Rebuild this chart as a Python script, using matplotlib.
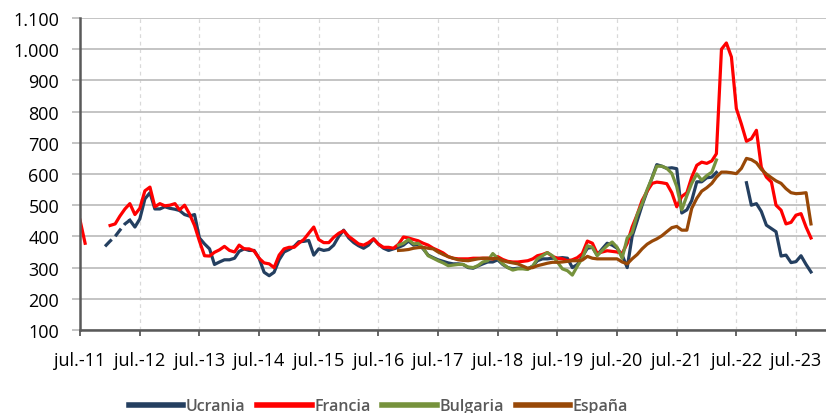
import numpy as np
import pandas as pd
import matplotlib
matplotlib.use("Agg")
import matplotlib.pyplot as plt

nan = np.nan

# monthly values, first month of each series given by *_start
france_start = "2011-07-01"
france = [452, 378, nan, nan, nan, nan,
          435, 440, 465, 488, 505, 470, 490, 546, 558, 495, 505, 498, 500, 505, 485, 500, 472, 435, 385, 338, 337, 349, 357, 368,
          355, 350, 372, 360, 360, 353, 330, 315, 312, 300, 340, 360, 365, 365, 378, 390, 410, 430, 390, 380, 380, 397, 410, 418,
          400, 388, 376, 372, 380, 392, 375, 365,
          365, 362, 375, 398, 395, 390, 386, 378, 372, 362, 355, 347, 335, 330, 328, 328, 328, 330, 330, 330, 330, 328,
          335, 326, 320, 318, 318, 320, 322, 328, 338, 342, 348, 336, 330, 328, 322, 325, 332, 345, 385, 378, 345, 350, 354,
          352, 350, 345, 378, 430, 470, 515, 545, 570, 574, 572, 569, 540, 495, 528, 540, 590, 628, 638, 634, 642, 665,
          1000, 1020, 975, 810, 760, 705, 713, 740, 622, 590, 574, 500, 484, 440, 445, 468, 473, 430, 395]

ucrania_start = "2011-12-01"
ucrania = [368, 385, 400, 420, 440, 452, 430, 456, 520, 540, 488, 488, 495, 490, 487, 483, 470, 465, 470, 395, 376, 360, 310, 318, 325,
           325, 330, 352, 360, 355, 355, 330, 285, 274, 285, 325, 350, 358, 368, 383, 384, 387, 340, 360, 355, 358, 372, 400, 420,
           395, 380, 370, 362, 372, 392, 375, 362,
           355, 360, 365, 372, 385, 372, 375, 360, 340, 332, 325, 320, 315, 312, 312, 310, 300, 298, 305, 312, 318, 318,
           325, 310, 300, 296, 298, 298, 296, 305, 322, 328, 328, 330, 330, 332, 330, 300, 310, 335, 362, 365, 340, 360, 378,
           372, 362, 340, 300, 400, 450, 500, 545, 590, 630, 625, 618, 620, 617, 475, 485, 515, 575, 575, 588, 590, 605,
           nan, nan, nan, nan, nan,
           572, 500, 505, 480, 436, 425, 415, 337, 340, 316, 319, 338, 310, 286]
ucrania_dashed = 6  # first months drawn dashed (gaps in the source)

bulgaria_start = "2016-11-01"
bulgaria = [372, 378, 390, 376, 378, 362, 338, 330, 322, 315, 306, 308, 310, 310, 302, 300, 306, 318, 322, 345,
            330, 312, 300, 292, 296, 296, 294, 305, 328, 338, 348, 338, 318, 296, 290, 276, 305, 330, 370, 365, 338, 355, 370,
            382, 365, 330, 395, 412, 470, 505, 550, 588, 625, 625, 618, 602, 560, 485, 530, 570, 600, 580, 595, 606, 645]

espana_start = "2016-11-01"
espana = [355, 356, 358, 362, 364, 365, 362, 360, 350, 342, 335, 330, 325, 323, 322, 325, 328, 330, 330, 328,
          330, 322, 318, 315, 312, 305, 298, 300, 306, 310, 314, 317, 317, 318, 320, 322, 322, 324, 336, 330, 328, 328, 328,
          328, 328, 318, 312, 328, 342, 360, 375, 385, 392, 402, 415, 428, 432, 420, 420, 490, 522, 545, 556, 570, 590,
          606, 606, 604, 601, 618, 650, 646, 636, 615, 600, 588, 578, 570, 553, 540, 537, 538, 540, 440]

tick_labels = ["jul.-11", "jul.-12", "jul.-13", "jul.-14", "jul.-15", "jul.-16", "jul.-17",
               "jul.-18", "jul.-19", "jul.-20", "jul.-21", "jul.-22", "jul.-23"]
y_ticks = list(range(100, 1200, 100))
y_labels = ["100", "200", "300", "400", "500", "600", "700", "800", "900", "1.000", "1.100"]


def months(start, n):
    return pd.date_range(start, periods=n, freq="MS")


plt.rcParams['font.family'] = ['Open Sans', 'DejaVu Sans']

fig = plt.figure(figsize=(8.26, 4.14), dpi=100)
ax = fig.add_axes([0.0969, 0.2005, 0.9031, 0.7536])

lw = 2.3
c_ukr = "#243F60"
c_fra = "#FF0000"
c_bul = "#76923C"
c_esp = "#984807"

x_ukr = months(ucrania_start, len(ucrania))
ax.plot(x_ukr[:ucrania_dashed], ucrania[:ucrania_dashed], color=c_ukr, lw=lw, ls=(0, (3, 1.5)))
ax.plot(x_ukr[ucrania_dashed - 1:], ucrania[ucrania_dashed - 1:], color=c_ukr, lw=lw, label="Ucrania")
ax.plot(months(france_start, len(france)), france, color=c_fra, lw=lw, label="Francia")
ax.plot(months(bulgaria_start, len(bulgaria)), bulgaria, color=c_bul, lw=lw, label="Bulgaria")
ax.plot(months(espana_start, len(espana)), espana, color=c_esp, lw=lw, label="España")

ticks = pd.to_datetime(["%d-07-01" % y for y in range(2011, 2024)])
ax.set_xticks(ticks)
ax.set_xticklabels(tick_labels, fontsize=13)
ax.set_xlim(pd.Timestamp("2011-07-01"), pd.Timestamp("2024-01-01"))

ax.set_yticks(y_ticks)
ax.set_yticklabels(y_labels, fontsize=13)
ax.set_ylim(100, 1100)

ax.yaxis.grid(True, color="#BFBFBF", lw=1.3)
ax.xaxis.grid(True, color="#D9D9D9", lw=0.9, ls=(0, (3, 3)))
ax.set_axisbelow(True)

for s in ["top", "right"]:
    ax.spines[s].set_visible(False)
for s in ["left", "bottom"]:
    ax.spines[s].set_color("#595959")
    ax.spines[s].set_linewidth(1.8)

ax.tick_params(axis="y", length=6, width=1.3, color="#BFBFBF", pad=9, labelcolor="black")
ax.tick_params(axis="x", length=4, width=1.3, color="#595959", pad=11, labelcolor="black")

leg = fig.legend(loc="center", bbox_to_anchor=(0.458, 0.016), ncol=4, frameon=False,
                 fontsize=11.5, handlelength=3.4, handletextpad=0.15, columnspacing=0.75,
                 labelcolor="#595959", prop={'weight': 'semibold', 'size': 11.5})
for h in leg.legend_handles:
    h.set_linewidth(4)

fig.savefig("out.png", dpi=100)
